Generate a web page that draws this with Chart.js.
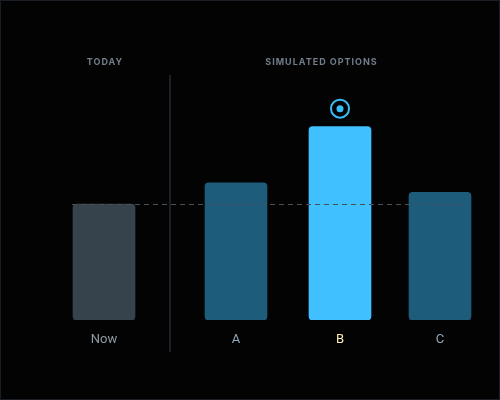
<!DOCTYPE html>
<html>
<head>
<meta charset="utf-8">
<script src="https://cdn.jsdelivr.net/npm/chart.js@4.4.1/dist/chart.umd.min.js"></script>
<style>
  html, body { margin: 0; padding: 0; background: #030303; }
  #wrap { width: 500px; height: 400px; position: relative; }
</style>
</head>
<body>
<div id="wrap"><canvas id="c" width="500" height="400"></canvas></div>
<script>
// ---- data ----
const categories = ["Now", "A", "B", "C"];
const positions = [0, 1.32, 2.36, 3.36];          // x slots (Now separated from options)
const values = [60, 71, 100, 66];                  // scores
const groupTitles = ["TODAY", "SIMULATED OPTIONS"];
const bestIndex = 2;                               // highlighted option
const baselineIndex = 0;                           // dashed reference line from "Now"

const barColors = ["#37434c", "#1e5c7b", "#40c0ff", "#1e5c7b"];
const labelColors = ["#8d9ba5", "#92aab9", "#fdebb8", "#92aab9"];

const overlay = {
  id: 'overlay',
  beforeDraw(chart) {
    const ctx = chart.ctx;
    ctx.save();
    ctx.fillStyle = '#030303';
    ctx.fillRect(0, 0, chart.width, chart.height);
    ctx.restore();
  },
  beforeDatasetsDraw(chart) {
    const ctx = chart.ctx, x = chart.scales.x;
    const divX = Math.round(x.getPixelForValue((positions[0] + positions[1]) / 2));
    ctx.save();
    ctx.strokeStyle = '#1a2027';
    ctx.lineWidth = 2;
    ctx.beginPath();
    ctx.moveTo(divX, 75);
    ctx.lineTo(divX, 352);
    ctx.stroke();
    ctx.restore();
  },
  afterDatasetsDraw(chart) {
    const ctx = chart.ctx, x = chart.scales.x, y = chart.scales.y;
    const meta = chart.getDatasetMeta(0);
    // dashed baseline
    const yb = Math.round(y.getPixelForValue(values[baselineIndex])) + 0.5;
    const first = meta.data[0], last = meta.data[meta.data.length - 1];
    ctx.save();
    ctx.strokeStyle = '#46515c';
    ctx.lineWidth = 1.2;
    ctx.setLineDash([5, 4]);
    ctx.beginPath();
    ctx.moveTo(first.x - first.width / 2 - 1, yb);
    ctx.lineTo(last.x + last.width / 2 - 2, yb);
    ctx.stroke();
    ctx.restore();

    // marker above best
    const bb = meta.data[bestIndex];
    const cx = bb.x, cy = bb.y - 18;
    ctx.save();
    ctx.strokeStyle = '#38bdf8';
    ctx.fillStyle = '#38bdf8';
    ctx.lineWidth = 2;
    ctx.beginPath();
    ctx.arc(cx, cy, 9, 0, Math.PI * 2);
    ctx.stroke();
    ctx.beginPath();
    ctx.arc(cx, cy, 3.5, 0, Math.PI * 2);
    ctx.fill();
    ctx.restore();

    // category labels
    ctx.save();
    ctx.font = '13px Roboto, "Noto Sans", sans-serif';
    ctx.textAlign = 'center';
    ctx.textBaseline = 'middle';
    categories.forEach((c, i) => {
      ctx.fillStyle = labelColors[i];
      ctx.fillText(c, x.getPixelForValue(positions[i]), 339.5);
    });
    ctx.restore();

    // group titles
    const divX = x.getPixelForValue((positions[0] + positions[1]) / 2);
    const rightEdge = last.x + last.width / 2;
    ctx.save();
    ctx.font = 'bold 9px Inter, "Noto Sans", sans-serif';
    ctx.letterSpacing = '1px';
    ctx.textAlign = 'center';
    ctx.textBaseline = 'middle';
    ctx.fillStyle = '#717d8a';
    ctx.fillText(groupTitles[0], x.getPixelForValue(positions[0]) + 1, 62);
    ctx.fillText(groupTitles[1], (divX + rightEdge) / 2 + 1, 62);
    ctx.restore();

    // frame
    ctx.save();
    ctx.strokeStyle = '#1a1f25';
    ctx.lineWidth = 1;
    ctx.strokeRect(0.5, 0.5, chart.width - 1, chart.height - 1);
    ctx.restore();
  }
};

new Chart(document.getElementById('c'), {
  type: 'bar',
  data: {
    datasets: [{
      data: positions.map((p, i) => ({ x: p, y: values[i] })),
      backgroundColor: barColors,
      borderWidth: 0,
      borderRadius: 4,
      borderSkipped: false,
      barThickness: 62
    }]
  },
  options: {
    responsive: false,
    animation: false,
    layout: { padding: { left: 20, right: 20, top: 30, bottom: 80 } },
    plugins: { legend: { display: false }, tooltip: { enabled: false } },
    scales: {
      x: { type: 'linear', min: -0.84, max: 3.76, offset: false, display: false },
      y: { min: 0, max: 150, display: false }
    }
  },
  plugins: [overlay]
});
</script>
</body>
</html>
